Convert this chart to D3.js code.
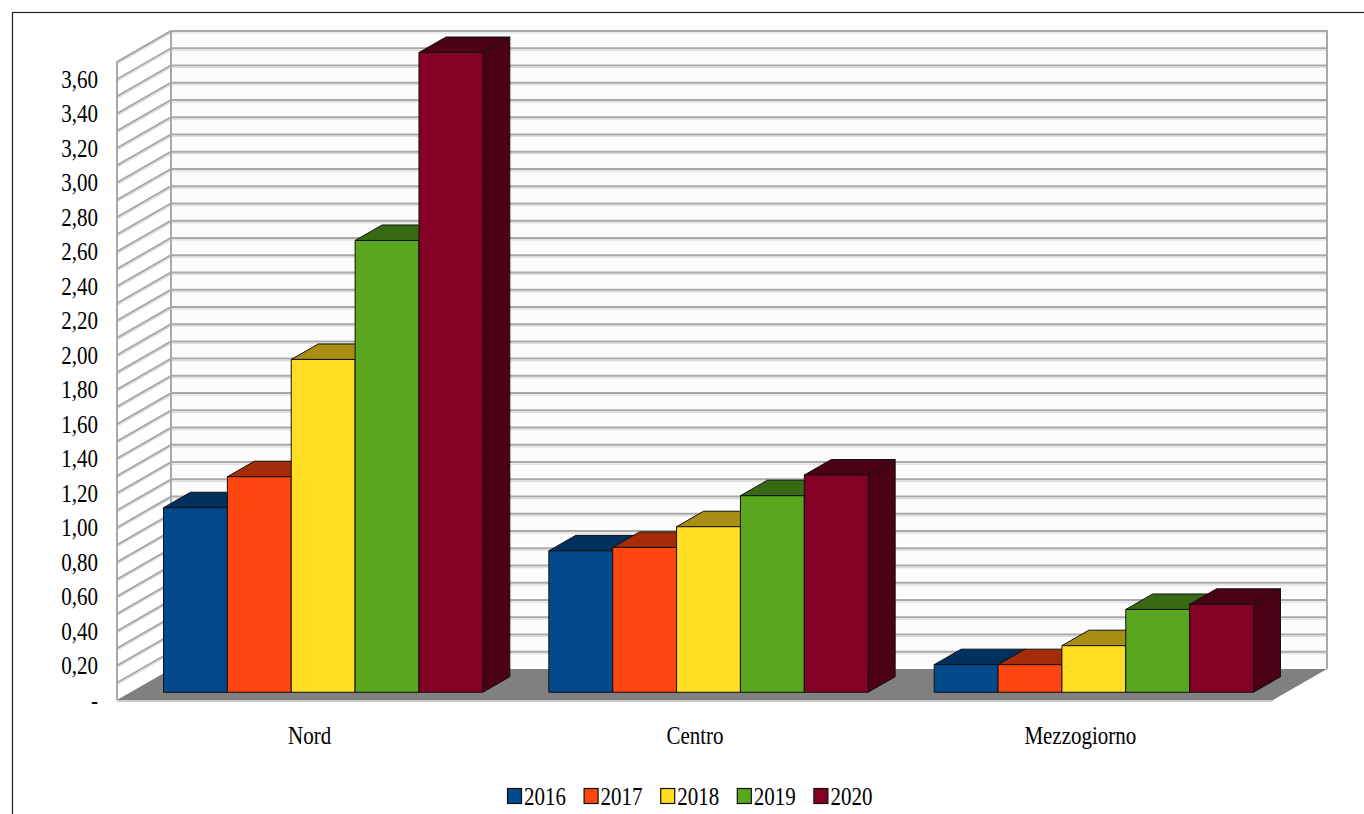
<!DOCTYPE html>
<html>
<head>
<meta charset="utf-8">
<script src="https://cdn.jsdelivr.net/npm/d3@7"></script>
<style>
  html, body { margin: 0; padding: 0; background: #ffffff; }
  svg { display: block; }
  text { font-family: "Liberation Serif", "Times New Roman", serif; fill: #000; }
</style>
</head>
<body>
<svg id="chart" width="1364" height="814"></svg>
<script>
// Regions and years
const categories = ["Nord", "Centro", "Mezzogiorno"];
const years = ["2016", "2017", "2018", "2019", "2020"];

// Values per year, one entry per region
const v2016 = [1.07, 0.82, 0.16];
const v2017 = [1.25, 0.84, 0.16];
const v2018 = [1.93, 0.96, 0.27];
const v2019 = [2.62, 1.14, 0.48];
const v2020 = [3.71, 1.26, 0.51];
const seriesValues = [v2016, v2017, v2018, v2019, v2020];

// Y axis tick labels
const tickValues = [0, 0.2, 0.4, 0.6, 0.8, 1.0, 1.2, 1.4, 1.6, 1.8, 2.0, 2.2, 2.4, 2.6, 2.8, 3.0, 3.2, 3.4, 3.6];
const tickLabels = ["-", "0,20", "0,40", "0,60", "0,80", "1,00", "1,20", "1,40", "1,60", "1,80", "2,00", "2,20", "2,40", "2,60", "2,80", "3,00", "3,20", "3,40", "3,60"];
const axisMax = 3.7;

// Face colours: front, top, side
const palette = [
  { front: "#024a8c", top: "#00305e", side: "#002a52" },
  { front: "#ff4510", top: "#a52c08", side: "#8f2606" },
  { front: "#ffdd22", top: "#a88e12", side: "#8c760c" },
  { front: "#5aa61f", top: "#376a12", side: "#2f5c0f" },
  { front: "#850025", top: "#4c0016", side: "#4a0015" }
];

const svg = d3.select("#chart");

// Outer frame
svg.append("rect")
  .attr("x", 12.5).attr("y", 12.5).attr("width", 1500).attr("height", 1000)
  .attr("fill", "none").attr("stroke", "#222").attr("stroke-width", 1.2);

// Front plane geometry and depth projection
const frontLeft = 117, frontRight = 1273;
const frontBase = 700, frontTop = 62;
const DX = 54, DY = -31;

const x = d3.scaleBand().domain(categories).range([frontLeft, frontRight]).paddingInner(0).paddingOuter(0);
const y = d3.scaleLinear().domain([0, axisMax]).range([frontBase, frontTop]);

// Grid line values every 0.1
const gridVals = d3.range(1, 38).map(i => +(i * 0.1).toFixed(2));

const gWalls = svg.append("g");

// Back wall
gWalls.append("rect")
  .attr("x", frontLeft + DX).attr("y", y(axisMax) + DY)
  .attr("width", frontRight - frontLeft).attr("height", y(0) - y(axisMax))
  .attr("fill", "#fcfcfc");

// Side wall
gWalls.append("path")
  .attr("d", `M${frontLeft},${y(0)} L${frontLeft},${y(axisMax)} L${frontLeft + DX},${y(axisMax) + DY} L${frontLeft + DX},${y(0) + DY} Z`)
  .attr("fill", "#ffffff");

// Back wall grid lines
const gridBack = gWalls.append("g");
gridVals.forEach(v => {
  const yy = y(v) + DY;
  gridBack.append("line")
    .attr("x1", frontLeft + DX).attr("x2", frontRight + DX)
    .attr("y1", yy + 2).attr("y2", yy + 2)
    .attr("stroke", "#dcdcdc").attr("stroke-width", 1.2);
  gridBack.append("line")
    .attr("x1", frontLeft + DX).attr("x2", frontRight + DX)
    .attr("y1", yy).attr("y2", yy)
    .attr("stroke", "#a9a9a9").attr("stroke-width", 2);
});

// Side wall grid lines
gridVals.forEach(v => {
  const yy = y(v);
  gWalls.append("line")
    .attr("x1", frontLeft).attr("y1", yy + 2)
    .attr("x2", frontLeft + DX).attr("y2", yy + DY + 2)
    .attr("stroke", "#dcdcdc").attr("stroke-width", 1.2);
  gWalls.append("line")
    .attr("x1", frontLeft).attr("y1", yy)
    .attr("x2", frontLeft + DX).attr("y2", yy + DY)
    .attr("stroke", "#a9a9a9").attr("stroke-width", 2);
});

// Wall outlines
gWalls.append("path")
  .attr("d", `M${frontLeft},${y(0)} L${frontLeft},${y(axisMax)} L${frontLeft + DX},${y(axisMax) + DY} L${frontRight + DX},${y(axisMax) + DY} L${frontRight + DX},${y(0) + DY}`)
  .attr("fill", "none").attr("stroke", "#a9a9a9").attr("stroke-width", 2);
gWalls.append("line")
  .attr("x1", frontLeft + DX).attr("x2", frontLeft + DX)
  .attr("y1", y(axisMax) + DY).attr("y2", y(0) + DY)
  .attr("stroke", "#a9a9a9").attr("stroke-width", 2);

// Floor
gWalls.append("path")
  .attr("d", `M${frontLeft},${y(0)} L${frontLeft + DX},${y(0) + DY} L${frontRight + DX},${y(0) + DY} L${frontRight},${y(0)} Z`)
  .attr("fill", "#808080");
gWalls.append("line")
  .attr("x1", frontLeft).attr("x2", frontRight)
  .attr("y1", y(0) + 1).attr("y2", y(0) + 1)
  .attr("stroke", "#b8b8b8").attr("stroke-width", 1.5);

// Bars: sit at a quarter of the depth, half the depth thick
const barOffset = 0.25, barDepth = 0.5;
const groupPad = 33;
const inner = d3.scaleBand().domain(years)
  .range([0, x.bandwidth() - 2 * groupPad]).paddingInner(0);

const gBars = svg.append("g");
categories.forEach((cat, ci) => {
  years.forEach((yr, si) => {
    const v = seriesValues[si][ci];
    const ox = DX * barOffset, oy = DY * barOffset;
    const bx = DX * barDepth, by = DY * barDepth;
    const x0 = x(cat) + groupPad + inner(yr) + ox;
    const x1 = x0 + inner.bandwidth();
    const yb = y(0) + oy;
    const yt = y(v) + oy;
    const c = palette[si];
    const g = gBars.append("g").attr("stroke", "#111").attr("stroke-width", 1).attr("stroke-linejoin", "round");
    // side face
    g.append("path")
      .attr("d", `M${x1},${yb} L${x1},${yt} L${x1 + bx},${yt + by} L${x1 + bx},${yb + by} Z`)
      .attr("fill", c.side);
    // top face
    g.append("path")
      .attr("d", `M${x0},${yt} L${x0 + bx},${yt + by} L${x1 + bx},${yt + by} L${x1},${yt} Z`)
      .attr("fill", c.top);
    // front face
    g.append("rect")
      .attr("x", x0).attr("y", yt).attr("width", x1 - x0).attr("height", yb - yt)
      .attr("fill", c.front);
  });
});

// Y axis labels, on the front edge of the side wall
const stretch = 1.18;
const gY = svg.append("g");
tickValues.forEach((t, i) => {
  gY.append("text")
    .attr("transform", `translate(98,${y(t)}) scale(1,${stretch})`)
    .attr("text-anchor", "end")
    .attr("dy", "0.35em")
    .attr("font-size", 21)
    .text(tickLabels[i]);
});

// Category labels
categories.forEach(cat => {
  svg.append("text")
    .attr("transform", `translate(${x(cat) + x.bandwidth() / 2},${735}) scale(1,${stretch})`)
    .attr("text-anchor", "middle")
    .attr("dy", "0.35em")
    .attr("font-size", 21)
    .text(cat);
});

// Legend
const legendStart = 507, legendStep = 76.6, legendY = 796;
years.forEach((yr, i) => {
  const lx = legendStart + i * legendStep;
  svg.append("rect")
    .attr("x", lx + 0.5).attr("y", legendY - 7.5).attr("width", 14).attr("height", 15)
    .attr("fill", palette[i].front).attr("stroke", "#111").attr("stroke-width", 1.2);
  svg.append("text")
    .attr("transform", `translate(${lx + 17},${legendY}) scale(1,${stretch})`)
    .attr("dy", "0.35em")
    .attr("font-size", 21)
    .text(yr);
});
</script>
</body>
</html>
